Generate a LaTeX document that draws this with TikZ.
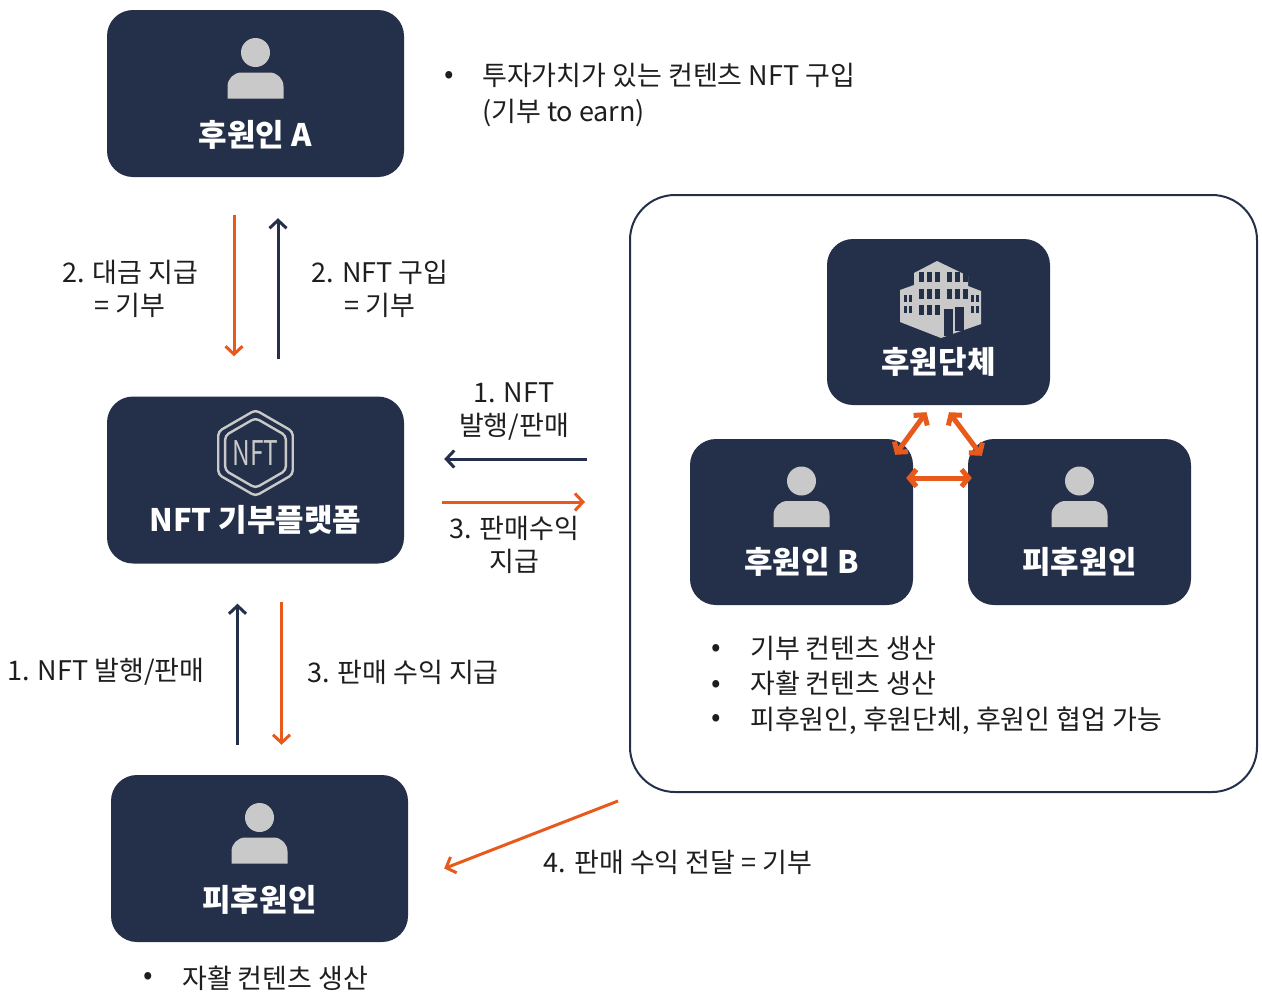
\documentclass[tikz,border=0pt]{standalone}
\usepackage{fontspec}
\setmainfont{Noto Sans CJK KR}
\usetikzlibrary{arrows.meta,positioning,calc,shapes.geometric}

\definecolor{navy}{HTML}{243049}
\definecolor{iconGray}{HTML}{C9C9C9}
\definecolor{flowOrange}{HTML}{E85A1B}
\definecolor{txtDark}{HTML}{1E1E1E}

% person icon, drawn relative to a box centre
\newcommand{\personIcon}[1]{%
  \fill[iconGray] ($(#1)+(0,-41)$) circle (14.5);
  \fill[iconGray] ($(#1)+(-28,5)$) [rounded corners=14] -- ($(#1)+(-28,-21)$) -- ($(#1)+(28,-21)$) [sharp corners] -- ($(#1)+(28,5)$) -- cycle;}

\begin{document}
\begin{tikzpicture}[x=1pt,y=-1pt,
  bigbox/.style={rectangle,rounded corners=26,fill=navy,minimum width=297,minimum height=167},
  smallbox/.style={rectangle,rounded corners=26,fill=navy,minimum width=223,minimum height=166},
  boxlabel/.style={text=white,font=\fontsize{31}{34}\selectfont\bfseries},
  flowtxt/.style={text=txtDark,font=\fontsize{27}{33}\selectfont,align=center},
  listtxt/.style={text=txtDark,font=\fontsize{27}{35.5}\selectfont,align=left,anchor=west,inner xsep=0},
  dot/.style={text=txtDark,font=\fontsize{28}{28}\selectfont},
  hexicon/.style={regular polygon,regular polygon sides=6,shape border rotate=30,draw=iconGray,line width=2.4,rounded corners=4,inner sep=0},
  navyflow/.style={draw=navy,line width=3,-{Straight Barb[length=8pt,width=17pt]}},
  orangeflow/.style={draw=flowOrange,line width=3,-{Straight Barb[length=8pt,width=17pt]}},
  linkflow/.style={draw=flowOrange,line width=5,{Straight Barb[length=7pt,width=17pt]}-{Straight Barb[length=7pt,width=17pt]}}]

\useasboundingbox (0,0) rectangle (1262,994);

% left column
\node[bigbox] (sponA) at (255.5,93.5) {};
\node[bigbox] (plat) at (255.5,480) {};
\node[bigbox] (recip) at (259.5,858.5) {};

% right frame
\node[rectangle,rounded corners=45,draw=navy,line width=2,fill=white,minimum width=627,minimum height=597] (frame) at (943.5,493.5) {};
\node[smallbox] (org) at (938.5,322) {};
\node[smallbox] (sponB) at (801.5,522) {};
\node[smallbox] (recipR) at (1079.5,522) {};

% icons
\personIcon{sponA}
\personIcon{recip}
\personIcon{sponB}
\personIcon{recipR}

\node[hexicon,minimum size=86] (nftOuter) at ($(plat)+(0,-27)$) {};
\node[hexicon,minimum size=70] (nftInner) at (nftOuter) {};
\node[text=iconGray,font=\fontsize{34}{34}\selectfont] (nftTxt) at (nftOuter) {\scalebox{0.72}[1]{NFT}};

\coordinate (bld) at ($(org)+(0,-24)$);
\fill[iconGray] ($(bld)+(-1.5,-37)$) -- ($(bld)+(29.5,-22)$) -- ($(bld)+(29.5,-12)$) -- ($(bld)+(42.5,-7)$) -- ($(bld)+(42.5,26)$) -- ($(bld)+(2.5,40)$) -- ($(bld)+(-38.5,24)$) -- ($(bld)+(-38.5,-8)$) -- ($(bld)+(-24.5,-13)$) -- ($(bld)+(-24.5,-25)$) -- cycle;
\foreach \wx in {-20,-12,-4,8,16,24} {
  \foreach \wy in {-26,-9} {
    \fill[navy] ($(bld)+(\wx,\wy)$) rectangle ++(5,10);
  }
}
\foreach \wx in {-20,-12,-4} {
  \fill[navy] ($(bld)+(\wx,7)$) rectangle ++(5,10);
}
\foreach \wx in {-35,-30,32,37} {
  \foreach \wy in {-3,8} {
    \fill[navy] ($(bld)+(\wx,\wy)$) rectangle ++(3.5,7);
  }
}
\fill[navy] ($(bld)+(5,11)$) rectangle ++(9,27);
\fill[navy] ($(bld)+(16,9)$) rectangle ++(9,24);

% box labels
\node[boxlabel] (sponAlbl) at ($(sponA)+(0,41.5)$) {후원인 A};
\node[boxlabel] (platlbl) at ($(plat)+(0,40)$) {NFT 기부플랫폼};
\node[boxlabel] (reciplbl) at ($(recip)+(0,41.5)$) {피후원인};
\node[boxlabel] (orglbl) at ($(org)+(0,40)$) {후원단체};
\node[boxlabel] (sponBlbl) at ($(sponB)+(0,40)$) {후원인 B};
\node[boxlabel] (recipRlbl) at ($(recipR)+(0,40)$) {피후원인};

% flows
\draw[orangeflow] ($(sponA.south)+(-21.5,38)$) -- ($(plat.north)+(-21.5,-40)$);
\draw[navyflow] ($(plat.north)+(22.5,-37)$) -- ($(sponA.south)+(22.5,41)$);
\draw[navyflow] ($(plat.east -| frame.west)+(-42,-21)$) -- ($(plat.east)+(40,-21)$);
\draw[orangeflow] ($(plat.east)+(38,22)$) -- ($(plat.east -| frame.west)+(-44,22)$);
\draw[navyflow] ($(recip.north)+(-22,-30)$) -- ($(plat.south)+(-18,40)$);
\draw[orangeflow] ($(plat.south)+(26,38)$) -- ($(recip.north)+(22,-30)$);
\draw[orangeflow] ($(frame.south west)+(-11,8)$) -- ($(recip.east)+(36,10)$);
\draw[linkflow] ($(org.south)+(-12,7)$) -- ($(sponB.north east)+(-18,16)$);
\draw[linkflow] ($(org.south)+(10.5,7)$) -- ($(recipR.north west)+(14,17)$);
\draw[linkflow] ($(sponB.east)+(-7,-44)$) -- ($(recipR.west)+(4,-44)$);

% flow labels
\node[flowtxt] (payLbl) at (130,288.5) {2. 대금 지급\\= 기부};
\node[flowtxt] (buyLbl) at (380,288.5) {2. NFT 구입\\= 기부};
\node[flowtxt] (mintLbl) at (514,412) {1. NFT\\발행/판매};
\node[flowtxt] (payoutLbl) at (514,544.5) {3. 판매수익\\지급};
\node[flowtxt] (mintLbl2) at (106,672) {1. NFT 발행/판매};
\node[flowtxt] (payoutLbl2) at (403,672) {3. 판매 수익 지급};
\node[flowtxt] (deliverLbl) at (678,862) {4. 판매 수익 전달 = 기부};

% notes
\node[dot] (dotA) at (449,77) {•};
\node[listtxt] (noteA) at (482,95) {투자가치가 있는 컨텐츠 NFT 구입\\(기부 to earn)};
\node[dot] (dotR1) at (716,650) {•};
\node[dot] (dotR2) at (716,686) {•};
\node[dot] (dotR3) at (716,720) {•};
\node[listtxt] (noteR) at (750,685) {기부 컨텐츠 생산\\자활 컨텐츠 생산\\피후원인, 후원단체, 후원인 협업 가능};
\node[dot] (dotC) at (148,978) {•};
\node[listtxt] (noteC) at (182,978) {자활 컨텐츠 생산};

\end{tikzpicture}
\end{document}
